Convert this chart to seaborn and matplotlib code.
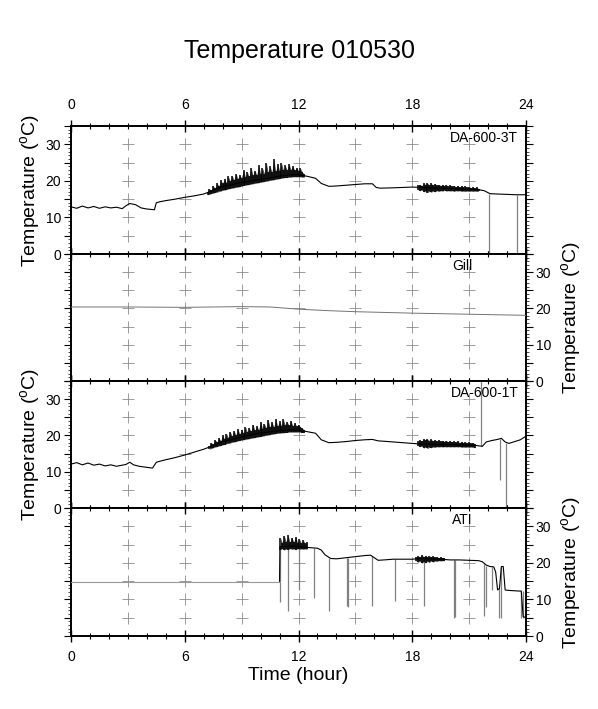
import numpy as np
import seaborn as sns
from matplotlib import pyplot as plt
from matplotlib.ticker import MultipleLocator, FuncFormatter

# --- data (hours, deg C) ---
# DA-600-3T
t_3t = [0, 0.3, 0.6, 0.9, 1.2, 1.5, 1.8, 2.1, 2.4, 2.7, 2.9, 3.1, 3.4, 3.7, 4.0, 4.4, 4.5,
        4.7, 5.0, 5.5, 6.0, 6.5, 7.0, 7.5, 8, 8.5, 9, 9.5, 10, 10.5, 11, 11.5, 12, 12.5, 12.9,
        13.2, 13.6, 14, 14.5, 15, 15.5, 15.9, 16.1, 16.3, 17, 17.5, 18, 18.5, 19, 19.5, 20,
        20.5, 21, 21.5, 21.8, 22.1, 22.5, 23, 23.5, 24]
v_3t = [12.9, 12.5, 13.1, 12.6, 13.0, 12.5, 12.9, 12.6, 12.8, 12.4, 13.2, 13.8, 13.5, 12.6,
        12.3, 12.1, 14.0, 14.3, 14.6, 15.0, 15.5, 15.9, 16.4, 17.4, 18.5, 19.0, 19.6, 20.0,
        20.4, 20.8, 21.3, 21.6, 21.7, 21.2, 20.7, 19.3, 18.5, 18.6, 18.8, 19.0, 19.2, 19.2,
        18.2, 18.0, 18.1, 18.2, 18.3, 18.2, 18.0, 18.1, 17.9, 17.8, 17.7, 17.6, 17.3, 16.5,
        16.4, 16.3, 16.2, 16.2]
band_3t_t = np.round(np.arange(7.2, 12.35, 0.1), 1)
band_3t_lo = [16.2, 16.3, 16.5, 16.6, 16.8, 16.9, 17.1, 17.2, 17.4, 17.5, 17.6, 17.8, 17.9,
              18.0, 18.1, 18.2, 18.3, 18.4, 18.6, 18.7, 18.8, 18.9, 19.0, 19.1, 19.2, 19.3,
              19.4, 19.5, 19.6, 19.7, 19.8, 19.9, 20.0, 20.1, 20.2, 20.3, 20.4, 20.5, 20.6,
              20.7, 20.8, 20.9, 20.9, 21.0, 21.0, 21.1, 21.1, 21.1, 21.1, 21.1, 21.0, 21.0]
band_3t_hi = [17.0, 17.8, 17.4, 18.6, 18.0, 19.4, 18.6, 20.2, 19.3, 20.6, 19.5, 21.2, 20.0,
              21.4, 20.3, 22.0, 20.6, 21.6, 20.8, 22.9, 21.0, 22.4, 21.2, 23.6, 21.5, 22.8,
              21.6, 24.2, 21.8, 23.5, 22.0, 25.0, 22.3, 24.0, 22.4, 25.9, 22.6, 24.6, 22.8,
              24.9, 22.9, 24.2, 23.0, 24.6, 23.1, 24.0, 22.9, 23.6, 22.8, 23.4, 22.4, 21.9]
band2_3t_t = np.round(np.arange(18.3, 21.55, 0.1), 1)
band2_3t_hi = [18.8, 19.0, 18.7, 19.3, 19.0, 19.4, 18.9, 19.3, 18.8, 19.2, 18.8, 19.0, 18.7,
               19.0, 18.6, 18.9, 18.5, 18.8, 18.5, 18.7, 18.4, 18.7, 18.3, 18.6, 18.3, 18.5,
               18.2, 18.4, 18.1, 18.3, 18.0, 18.2, 17.9]
band2_3t_lo = [17.6, 17.3, 17.5, 17.0, 17.2, 16.8, 17.1, 16.9, 17.2, 17.0, 17.3, 17.1, 17.3,
               17.2, 17.4, 17.2, 17.3, 17.2, 17.3, 17.1, 17.3, 17.2, 17.3, 17.1, 17.2, 17.1,
               17.2, 17.1, 17.2, 17.1, 17.2, 17.1, 17.2]
spike_3t_t = [22.07, 23.5]
spike_3t_a = [16.4, 16.2]
spike_3t_b = [0, 0]

# Gill
t_gill = [0, 3, 6, 9, 10.5, 12, 13.5, 15, 18, 21, 24]
v_gill = [20.4, 20.4, 20.3, 20.5, 20.4, 19.8, 19.4, 19.1, 18.7, 18.4, 18.1]

# DA-600-1T
t_1t = [0, 0.3, 0.6, 0.9, 1.2, 1.5, 1.8, 2.1, 2.4, 2.7, 2.9, 3.1, 3.3, 3.6, 4.0, 4.3, 4.5,
        4.7, 5.0, 5.5, 6.0, 6.5, 7.0, 7.5, 8, 8.5, 9, 9.5, 10, 10.5, 11, 11.5, 12, 12.5, 12.9,
        13.2, 13.6, 14, 14.5, 15, 15.5, 15.9, 16.2, 16.5, 17, 17.5, 18, 18.5, 19, 19.5, 20,
        20.5, 21, 21.4, 21.7, 21.9, 22.2, 22.5, 22.7, 22.9, 23.1, 23.4, 23.7, 24]
v_1t = [12.1, 12.5, 11.9, 12.4, 11.8, 12.1, 11.6, 11.9, 11.5, 11.8, 12.0, 12.6, 11.9, 11.5,
        11.2, 11.0, 12.6, 12.9, 13.3, 13.9, 14.6, 15.4, 16.2, 17.2, 18.3, 18.9, 19.6, 20.2,
        20.7, 21.0, 21.3, 21.5, 21.5, 21.0, 20.6, 18.8, 18.0, 18.1, 18.3, 18.6, 18.8, 18.9,
        18.5, 18.4, 18.2, 18.0, 17.8, 17.6, 17.6, 17.5, 17.5, 17.4, 17.4, 17.2, 17.0, 18.2,
        18.6, 18.9, 19.2, 18.2, 17.8, 18.3, 18.8, 19.8]
band_1t_t = np.round(np.arange(7.3, 12.35, 0.1), 1)
band_1t_lo = [16.2, 16.4, 16.6, 16.8, 16.9, 17.1, 17.2, 17.4, 17.5, 17.7, 17.8, 17.9, 18.1,
              18.2, 18.3, 18.5, 18.6, 18.7, 18.8, 18.9, 19.0, 19.1, 19.2, 19.3, 19.4, 19.5,
              19.6, 19.7, 19.8, 19.9, 20.0, 20.1, 20.2, 20.3, 20.4, 20.5, 20.6, 20.6, 20.7,
              20.7, 20.8, 20.8, 20.9, 20.9, 20.9, 20.9, 20.9, 20.9, 20.9, 20.8, 20.8]
band_1t_hi = [17.2, 18.0, 17.6, 18.8, 18.2, 19.3, 18.6, 20.0, 19.0, 20.5, 19.4, 21.0, 19.8,
              21.3, 20.1, 21.8, 20.4, 21.5, 20.6, 22.4, 20.9, 22.0, 21.2, 23.0, 21.4, 22.6,
              21.6, 23.8, 21.9, 23.2, 22.1, 24.2, 22.3, 23.6, 22.4, 24.5, 22.6, 23.9, 22.7,
              24.4, 22.8, 23.7, 22.8, 24.0, 22.7, 23.4, 22.6, 23.0, 22.3, 22.0, 21.6]
band2_1t_t = np.round(np.arange(18.3, 21.35, 0.1), 1)
band2_1t_hi = [18.4, 18.7, 18.5, 19.0, 18.7, 19.0, 18.6, 18.9, 18.5, 18.8, 18.4, 18.7, 18.4,
               18.6, 18.3, 18.6, 18.2, 18.5, 18.2, 18.4, 18.1, 18.4, 18.0, 18.3, 18.0, 18.2,
               17.9, 18.1, 17.8, 18.0, 17.7]
band2_1t_lo = [17.2, 16.9, 17.0, 16.5, 16.8, 16.4, 16.7, 16.6, 16.8, 16.7, 16.9, 16.8, 16.9,
               16.8, 16.9, 16.8, 16.9, 16.8, 16.9, 16.8, 16.9, 16.8, 16.9, 16.7, 16.8, 16.7,
               16.8, 16.7, 16.8, 16.7, 16.6]
spike_1t_t = [21.65, 22.63, 22.93]
spike_1t_a = [17.0, 19.0, 18.0]
spike_1t_b = [35, 7.7, 0]

# ATI
t_ati_off = [0, 11.0]
v_ati_off = [14.9, 14.9]
t_ati = [11.0, 11.02, 11.5, 12, 12.5, 13.0, 13.2, 13.4, 13.7, 14.0, 14.5, 15.0, 15.5, 15.8,
         16.0, 16.2, 16.5, 17, 17.5, 18, 18.5, 19, 19.5, 20, 20.5, 21, 21.5, 21.7, 21.9, 22.1,
         22.3, 22.4, 22.5, 22.6, 22.7, 22.8, 22.9, 23.0, 23.3, 23.6, 23.75, 23.85, 24]
v_ati = [14.9, 24.4, 24.6, 24.5, 24.2, 24.0, 23.5, 22.2, 21.2, 21.1, 21.4, 21.7, 22.0, 22.1,
         21.4, 20.7, 20.8, 21.0, 21.0, 21.0, 21.2, 21.1, 21.0, 20.8, 20.8, 20.7, 20.6, 20.3,
         19.4, 19.0, 18.9, 17.5, 12.6, 13.0, 19.0, 19.0, 12.6, 12.5, 12.4, 12.3, 12.3, 5.3, 5.0]
band_ati_t = np.round(np.arange(11.05, 12.5, 0.1), 2)
band_ati_hi = [26.8, 25.5, 27.4, 25.8, 27.6, 25.6, 26.9, 25.7, 27.2, 25.5, 26.5, 25.4, 26.2,
               25.3, 25.6]
band_ati_lo = [23.6, 23.9, 23.5, 23.8, 23.6, 23.9, 23.7, 23.8, 23.6, 23.9, 23.7, 23.8, 23.7,
               23.8, 23.7]
band2_ati_t = np.round(np.arange(18.2, 19.75, 0.1), 1)
band2_ati_hi = [21.5, 21.9, 21.6, 22.1, 21.7, 22.0, 21.6, 21.9, 21.6, 21.8, 21.5, 21.7, 21.4,
                21.6, 21.3, 21.4]
band2_ati_lo = [20.5, 20.2, 20.4, 19.9, 20.3, 20.0, 20.4, 20.1, 20.5, 20.2, 20.5, 20.4, 20.6,
                20.5, 20.6, 20.6]
spike_ati_t = [11.0, 11.45, 12.03, 12.8, 13.6, 14.54, 14.62, 15.9, 17.1, 18.6, 20.2, 20.25,
               21.8, 21.9, 22.23, 22.57, 22.7, 23.75, 23.85]
spike_ati_a = [24.4, 24.5, 24.5, 24.0, 21.2, 21.3, 21.3, 21.8, 21.0, 21.1, 20.8, 20.8,
               19.6, 19.2, 18.9, 13.0, 19.0, 12.3, 12.3]
spike_ati_b = [9.4, 6.9, 12.6, 10.5, 6.7, 8.2, 8.0, 8.3, 9.5, 8.2, 4.8, 5.3,
               5.5, 7.8, 12.5, 5.0, 4.9, 4.8, 5.0]

names = ["DA-600-3T", "Gill", "DA-600-1T", "ATI"]
label_sides = ["left", "right", "left", "right"]

sns.set_style("ticks")
plt.rcParams['font.family'] = ['Liberation Sans', 'DejaVu Sans']
plt.rcParams['mathtext.fontset'] = 'custom'
plt.rcParams['mathtext.rm'] = 'Liberation Sans'
for key in ['text.color', 'axes.labelcolor', 'xtick.color', 'ytick.color', 'axes.edgecolor']:
    plt.rcParams[key] = 'black'

W, H = 598, 709
fig = plt.figure(figsize=(W / 100, H / 100), dpi=100)
fig.text(0.5, 1 - 51 / H, "Temperature 010530", ha="center", va="center", fontsize=18)

edges = [126, 254, 381, 508, 636]
ylab = "Temperature ($^{\\rm o}$C)"
gx, gy = np.meshgrid(np.arange(3, 22, 3), np.arange(5, 31, 5))

panels = [
    (t_3t, v_3t, [(band_3t_t, band_3t_lo, band_3t_hi), (band2_3t_t, band2_3t_lo, band2_3t_hi)],
     spike_3t_t, spike_3t_a, spike_3t_b),
    (t_gill, v_gill, [], [], [], []),
    (t_1t, v_1t, [(band_1t_t, band_1t_lo, band_1t_hi), (band2_1t_t, band2_1t_lo, band2_1t_hi)],
     spike_1t_t, spike_1t_a, spike_1t_b),
    (t_ati, v_ati, [(band_ati_t, band_ati_lo, band_ati_hi), (band2_ati_t, band2_ati_lo, band2_ati_hi)],
     spike_ati_t, spike_ati_a, spike_ati_b),
]

for i, (t, v, bands, st, sa, sb) in enumerate(panels):
    ax = fig.add_axes([71 / W, 1 - edges[i + 1] / H, 455 / W, (edges[i + 1] - edges[i]) / H])
    ax.plot(gx.ravel(), gy.ravel(), "+", color="0.55", ms=8, mew=0.6, zorder=1)

    if len(st):
        ax.vlines(st, sb, sa, color="0.5", lw=0.9, zorder=2)
    for bt, blo, bhi in bands:
        # noisy stretches: dark halo plus dense black spikes
        ax.fill_between(bt, blo, bhi, color="0.3", lw=0, zorder=3)
        ax.vlines(bt, blo, bhi, color="black", lw=1.1, zorder=3)
    if i == 1:
        sns.lineplot(x=t, y=v, ax=ax, color="0.45", lw=0.7, estimator=None, sort=False, zorder=4)
    else:
        sns.lineplot(x=t, y=v, ax=ax, color="black", lw=0.8, estimator=None, sort=False, zorder=4)
    if i == 3:
        sns.lineplot(x=t_ati_off, y=v_ati_off, ax=ax, color="0.6", lw=0.8,
                     estimator=None, sort=False, zorder=4)

    ax.set_xlim(0, 24)
    ax.set_ylim(0, 35)
    ax.xaxis.set_major_locator(MultipleLocator(6))
    ax.xaxis.set_minor_locator(MultipleLocator(1))
    ax.yaxis.set_major_locator(MultipleLocator(5))
    ax.yaxis.set_minor_locator(MultipleLocator(1))
    ax.yaxis.set_major_formatter(FuncFormatter(lambda val, pos: f"{val:.0f}" if val % 10 == 0 else ""))
    ax.tick_params(axis="x", which="major", direction="inout", length=8, width=1.0,
                   top=True, bottom=True, labeltop=(i == 0), labelbottom=(i == 3),
                   labelsize=10, pad=6)
    ax.tick_params(axis="x", which="minor", direction="inout", length=4, width=0.8,
                   top=True, bottom=True)
    side = label_sides[i]
    ax.tick_params(axis="y", which="major", direction="out", length=5, width=0.8,
                   left=True, right=True, labelleft=(side == "left"),
                   labelright=(side == "right"), labelsize=10, pad=2)
    ax.tick_params(axis="y", which="minor", direction="out", length=2, width=0.5,
                   left=True, right=True)
    for s in ax.spines.values():
        s.set_linewidth(1.4)
        s.set_visible(True)

    ax.yaxis.set_label_position(side)
    ax.set_ylabel(ylab, fontsize=14, labelpad=2 if side == "left" else 6)
    if i == 3:
        ax.set_xlabel("Time (hour)", fontsize=14, labelpad=2)
    else:
        ax.set_xlabel("")

    if names[i].startswith("DA"):
        ax.text(0.983, 0.96, names[i], transform=ax.transAxes, ha="right", va="top", fontsize=10)
    else:
        ax.text(0.86, 0.96, names[i], transform=ax.transAxes, ha="center", va="top", fontsize=10)

fig.savefig("out.png", dpi=100)
